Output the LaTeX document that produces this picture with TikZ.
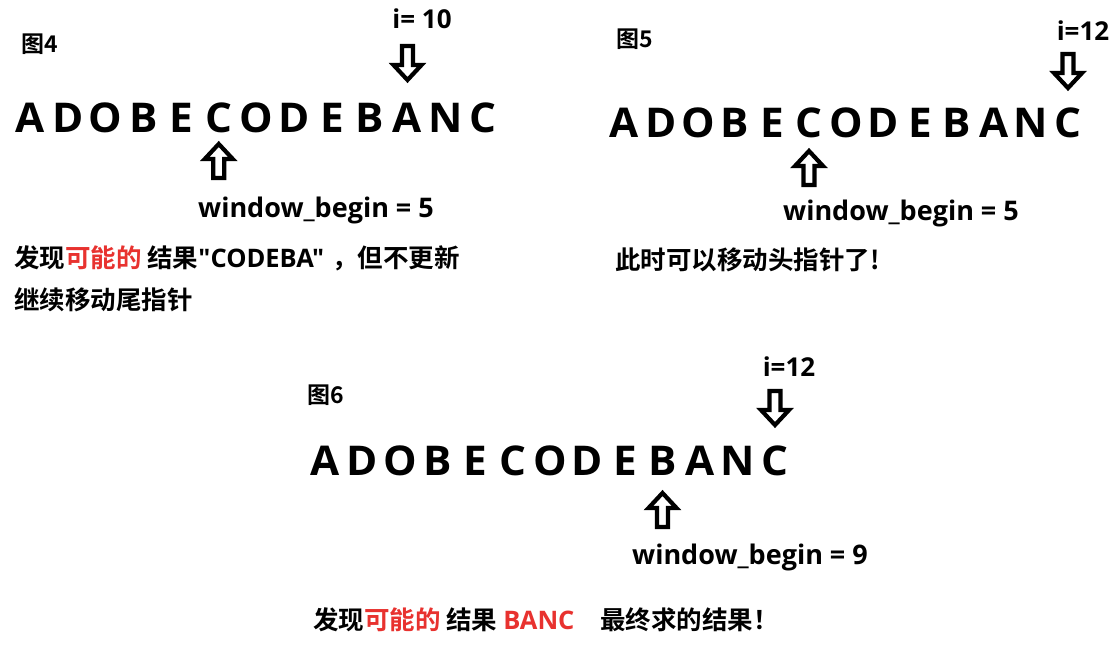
\documentclass[tikz,border=0pt]{standalone}
\usepackage{fontspec}
\setmainfont{Noto Sans CJK SC}[BoldFont={Noto Sans CJK SC Bold}]
\newfontfamily\latin{Open Sans}
\newfontfamily\latinwide{Open Sans}[FakeStretch=1.03]
\definecolor{hired}{HTML}{E8322F}
\tikzset{
  letter/.style={anchor=base, inner sep=0pt, font=\latinwide\bfseries\fontsize{41}{41}\selectfont},
  idx/.style={inner sep=0pt, font=\latin\bfseries\fontsize{26}{26}\selectfont},
  wb/.style={inner sep=0pt, font=\latin\bfseries\fontsize{27}{27}\selectfont},
  fig/.style={inner sep=0pt, font=\bfseries\fontsize{23}{23}\selectfont},
  note/.style={inner sep=0pt, anchor=west, font=\bfseries\fontsize{25.5}{25.5}\selectfont},
  ptr/.style={draw=black, line width=4.2pt, line join=miter, fill=white},
  darrow/.pic={\path[ptr] (-5.5,-17) -- (5.5,-17) -- (5.5,2) -- (14,2) -- (0,17) -- (-14,2) -- (-5.5,2) -- cycle;},
  uarrow/.pic={\path[ptr] (-5.5,17) -- (5.5,17) -- (5.5,-2) -- (14,-2) -- (0,-17) -- (-14,-2) -- (-5.5,-2) -- cycle;},
}
\begin{document}
\begin{tikzpicture}[x=1pt,y=-1pt]
\useasboundingbox[fill=white] (0,0) rectangle (1116,650);

% ---- Figure 4 ----
\node[fig] (f4) at (40,44) {图4};
\foreach \l [count=\i from 0] in {A,D,O,B,E,C,O,D,E,B,A,N,C}
  \node[letter] (a\i) at ({30+37.75*\i},132) {\l};
\node[idx] (i4) at (422,19) {i= 10};
\pic at (a10 |- 0,63) {darrow};
\pic at (a5 |- 0,161) {uarrow};
\node[wb] (w4) at (316,210) {window\_begin = 5};
\node[note] (n4a) at (14,258) {发现{\color{hired}可能的} 结果{\latin"CODEBA"}\hspace{8pt}，但不更新};
\node[note] (n4b) at (14,300) {继续移动尾指针};

% ---- Figure 5 ----
\node[fig] (f5) at (635,39) {图5};
\foreach \l [count=\i from 0] in {A,D,O,B,E,C,O,D,E,B,A,N,C}
  \node[letter] (b\i) at ({624+37*\i},138) {\l};
\node[idx] (i5) at (1083,31) {i=12};
\pic at (b12 |- 0,71) {darrow};
\pic at (b5 |- 0,168) {uarrow};
\node[wb] (w5) at (901,213) {window\_begin = 5};
\node[note] (n5) at (615,260) {此时可以移动头指针了!};

% ---- Figure 6 ----
\node[fig] (f6) at (326,395) {图6};
\foreach \l [count=\i from 0] in {A,D,O,B,E,C,O,D,E,B,A,N,C}
  \node[letter] (c\i) at ({325+37.5*\i},475) {\l};
\node[idx] (i6) at (789,367) {i=12};
\pic at (c12 |- 0,408) {darrow};
\pic at (c9 |- 0,510) {uarrow};
\node[wb] (w6) at (750,557) {window\_begin = 9};
\node[note] (n6) at (313,620) {发现{\color{hired}可能的} 结果 {\latin\color{hired}BANC}\hspace{26pt}最终求的结果！};
\end{tikzpicture}
\end{document}
